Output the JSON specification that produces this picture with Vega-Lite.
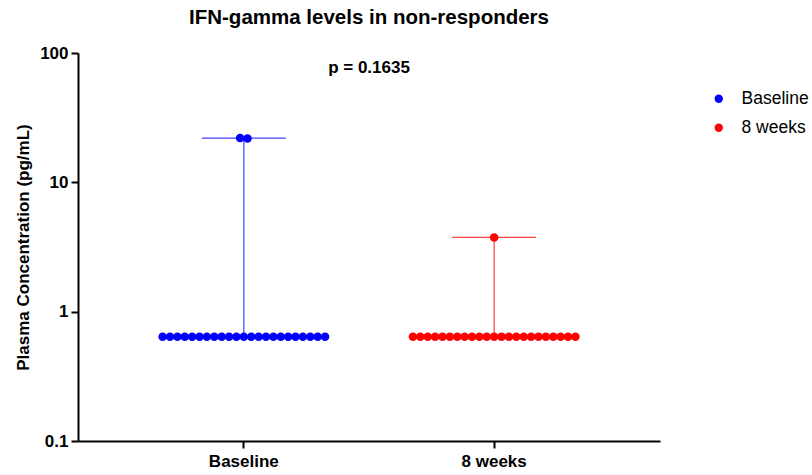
{
  "$schema": "https://vega.github.io/schema/vega-lite/v6.json",
  "autosize": "none",
  "width": 582,
  "height": 388,
  "padding": {"left": 78, "top": 53, "right": 152, "bottom": 34},
  "background": "white",
  "config": {"view": {"stroke": null}, "font": "Liberation Sans"},
  "title": {"text": "IFN-gamma levels in non-responders", "fontSize": 20.5, "fontWeight": "bold", "font": "Liberation Sans", "anchor": "middle", "offset": 16, "color": "black"},
  "data": {"values": [
    {"group": "Baseline", "slot": 0, "value": 0.64}, {"group": "Baseline", "slot": 2, "value": 0.64}, {"group": "Baseline", "slot": 4, "value": 0.64}, {"group": "Baseline", "slot": 6, "value": 0.64}, {"group": "Baseline", "slot": 8, "value": 0.64}, {"group": "Baseline", "slot": 10, "value": 0.64}, {"group": "Baseline", "slot": 12, "value": 0.64}, {"group": "Baseline", "slot": 14, "value": 0.64}, {"group": "Baseline", "slot": 16, "value": 0.64}, {"group": "Baseline", "slot": 18, "value": 0.64}, {"group": "Baseline", "slot": 20, "value": 0.64}, {"group": "Baseline", "slot": 22, "value": 0.64}, {"group": "Baseline", "slot": 24, "value": 0.64}, {"group": "Baseline", "slot": 26, "value": 0.64}, {"group": "Baseline", "slot": 28, "value": 0.64}, {"group": "Baseline", "slot": 30, "value": 0.64}, {"group": "Baseline", "slot": 32, "value": 0.64}, {"group": "Baseline", "slot": 34, "value": 0.64}, {"group": "Baseline", "slot": 36, "value": 0.64}, {"group": "Baseline", "slot": 38, "value": 0.64}, {"group": "Baseline", "slot": 40, "value": 0.64}, {"group": "Baseline", "slot": 42, "value": 0.64}, {"group": "Baseline", "slot": 44, "value": 0.64},
    {"group": "Baseline", "slot": 21, "value": 22.0}, {"group": "Baseline", "slot": 23, "value": 21.8},
    {"group": "8 weeks", "slot": 0, "value": 0.64}, {"group": "8 weeks", "slot": 2, "value": 0.64}, {"group": "8 weeks", "slot": 4, "value": 0.64}, {"group": "8 weeks", "slot": 6, "value": 0.64}, {"group": "8 weeks", "slot": 8, "value": 0.64}, {"group": "8 weeks", "slot": 10, "value": 0.64}, {"group": "8 weeks", "slot": 12, "value": 0.64}, {"group": "8 weeks", "slot": 14, "value": 0.64}, {"group": "8 weeks", "slot": 16, "value": 0.64}, {"group": "8 weeks", "slot": 18, "value": 0.64}, {"group": "8 weeks", "slot": 20, "value": 0.64}, {"group": "8 weeks", "slot": 22, "value": 0.64}, {"group": "8 weeks", "slot": 24, "value": 0.64}, {"group": "8 weeks", "slot": 26, "value": 0.64}, {"group": "8 weeks", "slot": 28, "value": 0.64}, {"group": "8 weeks", "slot": 30, "value": 0.64}, {"group": "8 weeks", "slot": 32, "value": 0.64}, {"group": "8 weeks", "slot": 34, "value": 0.64}, {"group": "8 weeks", "slot": 36, "value": 0.64}, {"group": "8 weeks", "slot": 38, "value": 0.64}, {"group": "8 weeks", "slot": 40, "value": 0.64}, {"group": "8 weeks", "slot": 42, "value": 0.64}, {"group": "8 weeks", "slot": 44, "value": 0.64},
    {"group": "8 weeks", "slot": 22, "value": 3.75}
  ]},
  "layer": [
    {
      "transform": [{"aggregate": [{"op": "min", "field": "value", "as": "lo"}, {"op": "max", "field": "value", "as": "hi"}], "groupby": ["group"]}],
      "mark": {"type": "rule", "strokeWidth": 1.2, "opacity": 0.75},
      "encoding": {
        "x": {"field": "group", "type": "nominal"},
        "y": {"field": "lo", "type": "quantitative"},
        "y2": {"field": "hi"},
        "color": {"field": "group", "type": "nominal"}
      }
    },
    {
      "transform": [{"aggregate": [{"op": "max", "field": "value", "as": "hi"}], "groupby": ["group"]}],
      "mark": {"type": "tick", "size": 84, "thickness": 1.2, "opacity": 0.75},
      "encoding": {
        "x": {"field": "group", "type": "nominal"},
        "y": {"field": "hi", "type": "quantitative"},
        "color": {"field": "group", "type": "nominal"}
      }
    },
    {
      "mark": {"type": "circle", "size": 72, "opacity": 1},
      "encoding": {
        "x": {"field": "group", "type": "nominal", "sort": ["Baseline", "8 weeks"],
          "scale": {"type": "band", "domain": ["Baseline", "8 weeks"], "paddingInner": 0.351, "paddingOuter": 0.338},
          "axis": {"title": null, "labelAngle": 0, "labelAlign": "center", "labelBaseline": "top", "labelFontSize": 17, "labelFontWeight": "bold", "labelColor": "black", "domainColor": "black", "domainWidth": 2, "tickColor": "black", "tickWidth": 2, "tickSize": 7, "labelPadding": 5, "grid": false}
        },
        "xOffset": {"field": "slot", "type": "ordinal", "scale": {"domain": [0,1,2,3,4,5,6,7,8,9,10,11,12,13,14,15,16,17,18,19,20,21,22,23,24,25,26,27,28,29,30,31,32,33,34,35,36,37,38,39,40,41,42,43,44], "paddingInner": 0, "paddingOuter": 0}},
        "y": {"field": "value", "type": "quantitative",
          "scale": {"type": "log", "domain": [0.1, 100], "nice": false},
          "axis": {"title": "Plasma Concentration (pg/mL)", "titleFontSize": 17, "titleFontWeight": "bold", "titleColor": "black", "titlePadding": 7, "values": [0.1, 1, 10, 100], "format": "~g", "labelFontSize": 17, "labelFontWeight": "bold", "labelColor": "black", "domainColor": "black", "domainWidth": 2, "tickColor": "black", "tickWidth": 2, "tickSize": 7, "labelPadding": 3, "grid": false}
        },
        "color": {"field": "group", "type": "nominal",
          "scale": {"domain": ["Baseline", "8 weeks"], "range": ["#0000ff", "#ff0000"]},
          "legend": {"title": null, "orient": "none", "legendX": 632, "legendY": 37, "symbolType": "circle", "symbolSize": 70, "symbolOpacity": 1, "labelFontSize": 17.5, "labelColor": "black", "labelFont": "Liberation Sans", "rowPadding": 10, "labelOffset": 14, "symbolStrokeWidth": 0,
            "encode": {"symbols": {"update": {"opacity": {"value": 1}, "fillOpacity": {"value": 1}}}}}
        }
      }
    },
    {
      "data": {"values": [{"label": "p = 0.1635"}]},
      "mark": {"type": "text", "fontSize": 17, "fontWeight": "bold", "color": "black", "x": {"expr": "width/2"}},
      "encoding": {
        "y": {"datum": 76},
        "text": {"field": "label"}
      }
    }
  ]
}
